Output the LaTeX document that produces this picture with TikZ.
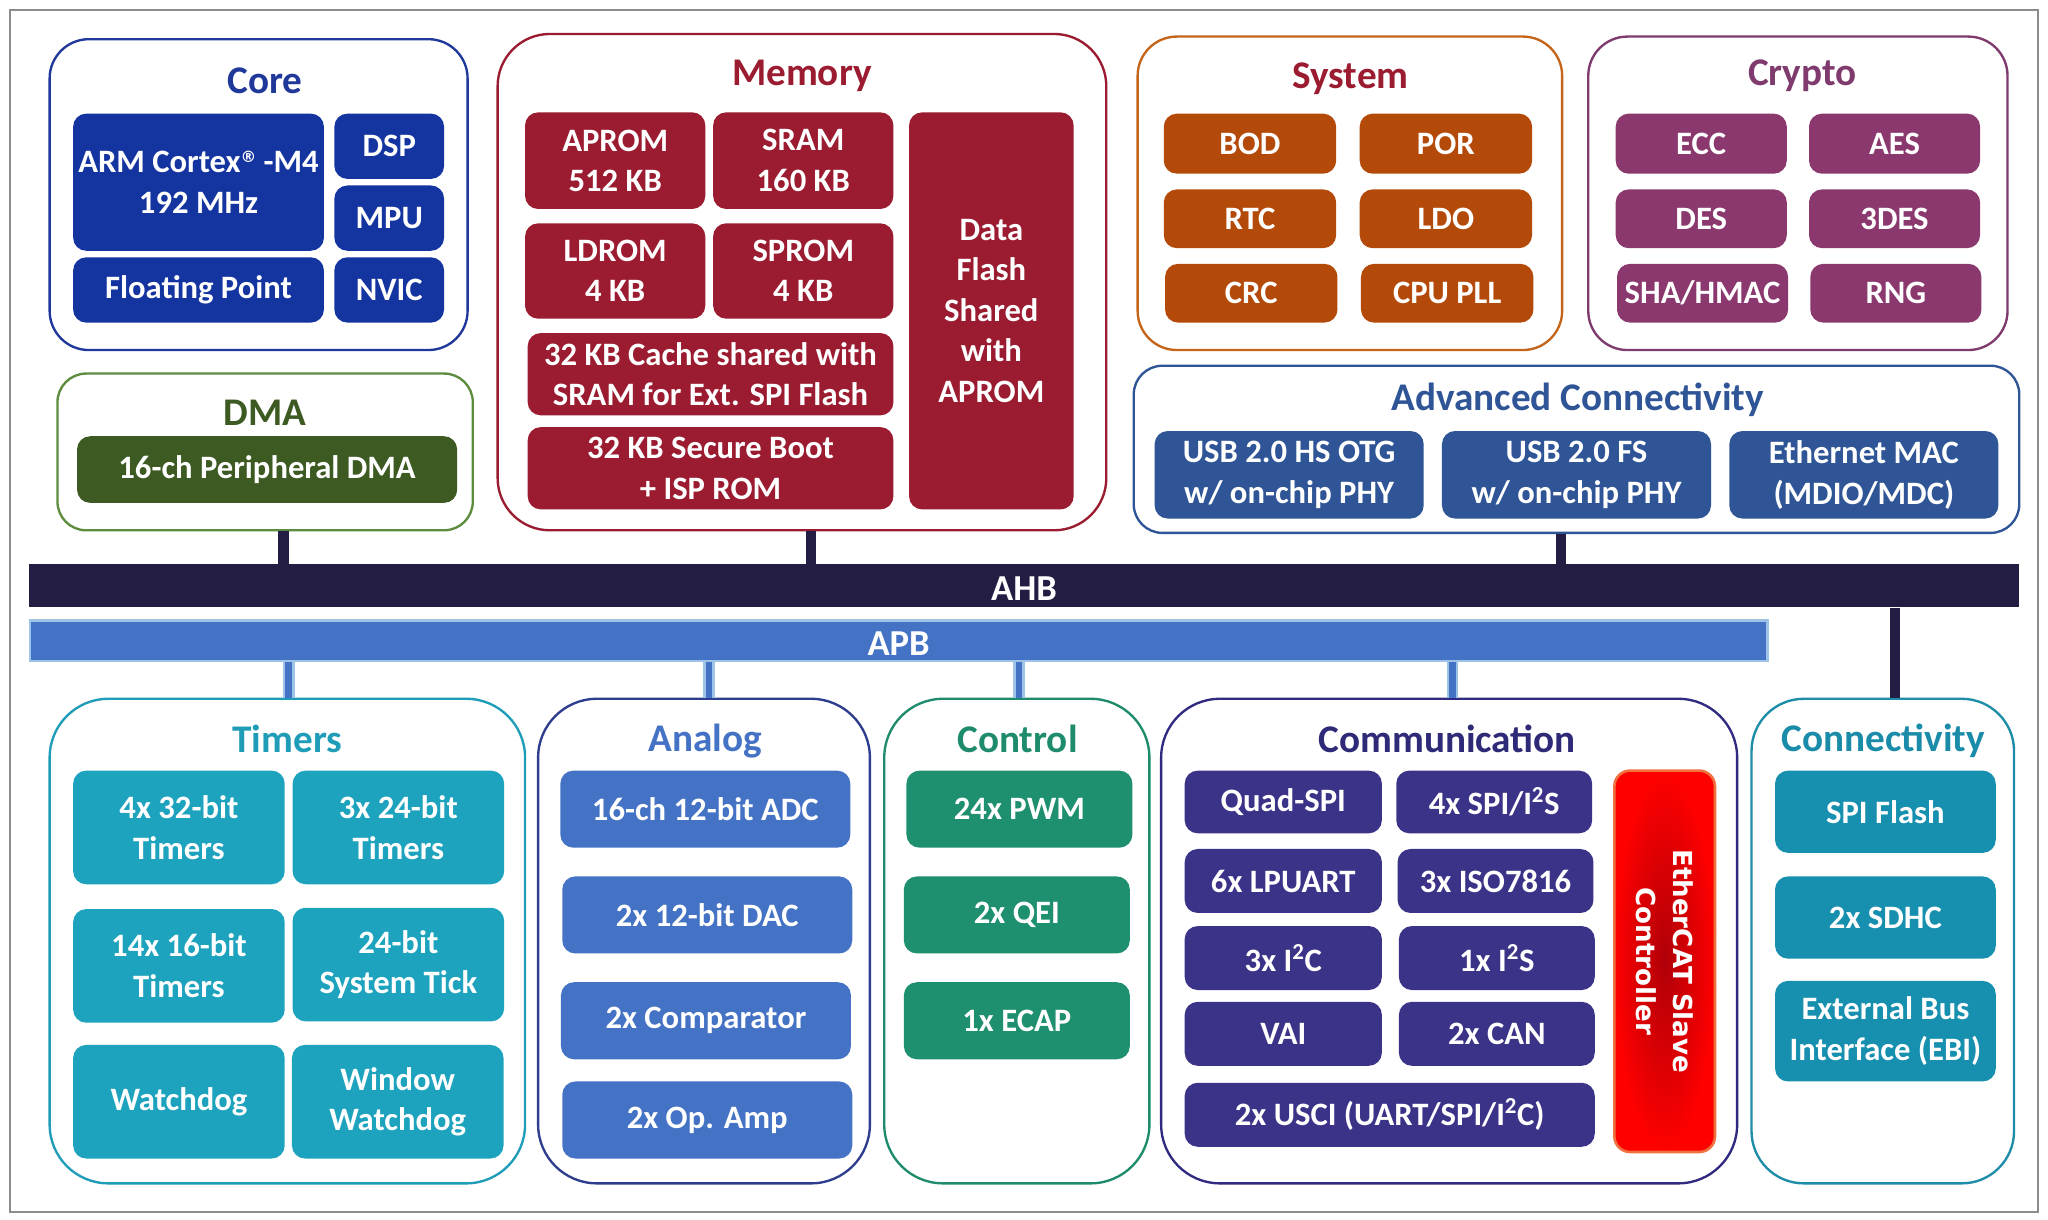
\documentclass[tikz,border=0pt]{standalone}
\usepackage{fontspec}
\setmainfont{Carlito}
\newfontfamily\ecatfont{DejaVu Sans}
\usetikzlibrary{fit}
\definecolor{frameC}{HTML}{8C8C8C}
\definecolor{coreC}{HTML}{1F3899}
\definecolor{coreF}{HTML}{1434A0}
\definecolor{dmaB}{HTML}{5E8C3E}
\definecolor{dmaF}{HTML}{3C5A22}
\definecolor{memC}{HTML}{9B1C30}
\definecolor{sysB}{HTML}{C5651A}
\definecolor{sysF}{HTML}{B44A0A}
\definecolor{cryC}{HTML}{7F3A6E}
\definecolor{cryF}{HTML}{8A386D}
\definecolor{advC}{HTML}{2F5597}
\definecolor{ahbC}{HTML}{231D44}
\definecolor{apbC}{HTML}{4472C4}
\definecolor{apbE}{HTML}{9DC3E6}
\definecolor{timB}{HTML}{1F9DB8}
\definecolor{timF}{HTML}{1DA3BD}
\definecolor{anaB}{HTML}{2E3E8E}
\definecolor{ctlC}{HTML}{1E8C6C}
\definecolor{ctlF}{HTML}{1E8F6F}
\definecolor{comB}{HTML}{302B80}
\definecolor{comT}{HTML}{2E2A78}
\definecolor{comF}{HTML}{3B3388}
\definecolor{ecatB}{HTML}{F07040}
\definecolor{ecatIn}{HTML}{B00008}
\definecolor{ecatOut}{HTML}{FF0000}
\definecolor{conB}{HTML}{1E8DA8}
\definecolor{conT}{HTML}{1A8BA8}
\definecolor{conF}{HTML}{178FAF}
\tikzset{
  grp/.style={draw=#1, line width=1.8pt, inner sep=0pt, fill=white},
  ttl/.style={text=#1, font=\fontsize{30}{36}\selectfont\bfseries, inner sep=0pt},
  blk/.style={fill=#1, rounded corners=10pt, inner sep=0pt, text=white, align=center,
    font=\fontsize{25}{31}\selectfont\bfseries},
  bar/.style={fill=#1, inner sep=0pt},
  bustxt/.style={text=white, font=\fontsize{28}{32}\selectfont\bfseries, inner sep=0pt},
  ahbstub/.style={draw=ahbC, line width=8pt},
  apbstub/.style={draw=apbE, line width=2pt, double=apbC, double distance=5pt},
}
\newcommand\pb[6]{\node[blk=#1, minimum width=#4pt, minimum height=#5pt] (#2) at (#3) {#6};}
\newcommand\regmark{{\ecatfont\fontsize{12}{12}\selectfont\raisebox{8pt}{®}}}
\begin{document}
\begin{tikzpicture}[x=1pt,y=-1pt]
\useasboundingbox (0,0) rectangle (1568,934);
\fill[white] (0,0) rectangle (1568,934);
\draw[frameC, line width=1.5pt] (8,8) rectangle (1560,928);

% x positions of the stubs
\coordinate (xdma) at (217,0);
\coordinate (xmem) at (621,0);
\coordinate (xadv) at (1195,0);
\coordinate (xcon) at (1451,0);
\coordinate (xtim) at (221,0);
\coordinate (xana) at (543,0);
\coordinate (xctl) at (780,0);
\coordinate (xcom) at (1112,0);

% buses
\node[bar=ahbC, fit={(22,432) (1546,465)}] (ahb) {};
\node[bustxt] (ahbT) at (784,451) {AHB};
\node[draw=apbE, line width=2pt, bar=apbC, fit={(23,475) (1353,506)}] (apb) {};
\node[bustxt] (apbT) at (688,493) {APB};

% ---------------- Core
\node[grp=coreC, rounded corners=30pt, fit={(38,30) (358,268)}] (core) {};
\node[ttl=coreC] (coreT) at (203,62) {Core};
\pb{coreF}{arm}{152,139.5}{192}{105}{ARM Cortex\regmark{} -M4\\192 MHz}
\pb{coreF}{dsp}{298,112}{84}{50}{DSP}
\pb{coreF}{mpu}{298,167}{84}{50}{MPU}
\pb{coreF}{fpu}{152,222}{192}{50}{Floating Point}
\pb{coreF}{nvic}{298,222}{84}{50}{NVIC}

% ---------------- DMA
\node[grp=dmaB, rounded corners=22pt, fit={(44,286) (362,406)}] (dma) {};
\node[ttl=dmaF] (dmaT) at (203,316) {DMA};
\pb{dmaF}{pdma}{204.5,359.5}{291}{51}{16-ch Peripheral DMA}

% ---------------- Memory
\node[grp=memC, rounded corners=40pt, fit={(381,26) (847,406)}] (mem) {};
\node[ttl=memC] (memT) at (614,58) {Memory};
\pb{memC}{aprom}{471,123}{138}{74}{APROM\\512 KB}
\pb{memC}{sram}{615,123}{138}{74}{SRAM\\160 KB}
\pb{memC}{ldrom}{471,207.5}{138}{73}{LDROM\\4 KB}
\pb{memC}{sprom}{615,207.5}{138}{73}{SPROM\\4 KB}
\pb{memC}{cache}{544,286.5}{280}{63}{32 KB Cache shared with\\SRAM for Ext. SPI Flash}
\pb{memC}{boot}{544,358.5}{280}{63}{32 KB Secure Boot\\+ ISP ROM}
\pb{memC}{dflash}{759,238}{126}{304}{Data\\Flash\\Shared\\with\\APROM}

% ---------------- System
\node[grp=sysB, rounded corners=30pt, fit={(871,28) (1196,268)}] (sys) {};
\node[ttl=memC] (sysT) at (1034,60) {System};
\pb{sysF}{bod}{957,110}{132}{46}{BOD}
\pb{sysF}{por}{1107,110}{132}{46}{POR}
\pb{sysF}{rtc}{957,167.5}{132}{45}{RTC}
\pb{sysF}{ldo}{1107,167.5}{132}{45}{LDO}
\pb{sysF}{crc}{958,224.5}{132}{45}{CRC}
\pb{sysF}{pll}{1108,224.5}{132}{45}{CPU PLL}

% ---------------- Crypto
\node[grp=cryC, rounded corners=30pt, fit={(1216,28) (1537,268)}] (cry) {};
\node[ttl=cryC] (cryT) at (1380,58) {Crypto};
\pb{cryF}{ecc}{1302.5,110}{131}{46}{ECC}
\pb{cryF}{aes}{1450.5,110}{131}{46}{AES}
\pb{cryF}{des}{1302.5,167.5}{131}{45}{DES}
\pb{cryF}{tdes}{1450.5,167.5}{131}{45}{3DES}
\pb{cryF}{sha}{1303.5,224.5}{131}{45}{SHA/HMAC}
\pb{cryF}{rng}{1451.5,224.5}{131}{45}{RNG}

% ---------------- Advanced Connectivity
\node[grp=advC, rounded corners=22pt, fit={(868,280) (1546,408)}] (adv) {};
\node[ttl=advC] (advT) at (1208,306) {Advanced Connectivity};
\pb{advC}{usbhs}{987,363.5}{206}{67}{USB 2.0 HS OTG\\w/ on-chip PHY}
\pb{advC}{usbfs}{1207,363.5}{206}{67}{USB 2.0 FS\\w/ on-chip PHY}
\pb{advC}{eth}{1427,363.5}{206}{67}{Ethernet MAC\\(MDIO/MDC)}

% ---------------- Timers
\node[grp=timB, rounded corners=45pt, fit={(38,535) (402,906)}] (tim) {};
\node[ttl=timB] (timT) at (220,566) {Timers};
\pb{timF}{t1}{137,633.5}{162}{87}{4x 32-bit\\Timers}
\pb{timF}{t2}{305,633.5}{162}{87}{3x 24-bit\\Timers}
\pb{timF}{t3}{137,739.5}{162}{87}{14x 16-bit\\Timers}
\pb{timF}{t4}{305,738.5}{162}{87}{24-bit\\System Tick}
\pb{timF}{t5}{137,843.5}{162}{87}{Watchdog}
\pb{timF}{t6}{304.5,843.5}{162}{87}{Window\\Watchdog}

% ---------------- Analog
\node[grp=anaB, rounded corners=45pt, fit={(412,535) (666,906)}] (ana) {};
\node[ttl=apbC] (anaT) at (540,567) {Analog};
\pb{apbC}{adc}{540,619.5}{222}{59}{16-ch 12-bit ADC}
\pb{apbC}{dac}{541.5,700.5}{222}{59}{2x 12-bit DAC}
\pb{apbC}{cmp}{540.5,781.5}{222}{59}{2x Comparator}
\pb{apbC}{opa}{541.5,857.5}{222}{59}{2x Op. Amp}

% ---------------- Control
\node[grp=ctlC, rounded corners=45pt, fit={(677,535) (880,906)}] (ctl) {};
\node[ttl=ctlC] (ctlT) at (779,566) {Control};
\pb{ctlF}{pwm}{780.5,619.5}{173}{59}{24x PWM}
\pb{ctlF}{qei}{778.5,700.5}{173}{59}{2x QEI}
\pb{ctlF}{ecap}{778.5,781.5}{173}{59}{1x ECAP}

% ---------------- Communication
\node[grp=comB, rounded corners=45pt, fit={(889,535) (1330,906)}] (com) {};
\node[ttl=comT] (comT) at (1108,566) {Communication};
\pb{comF}{qspi}{982.5,614}{151}{48}{Quad-SPI}
\pb{comF}{spi}{1144,614}{150}{48}{4x SPI/I\textsuperscript{2}S}
\pb{comF}{lpuart}{982.5,674.5}{151}{49}{6x LPUART}
\pb{comF}{iso}{1145,674.5}{150}{49}{3x ISO7816}
\pb{comF}{itc}{982.5,733.5}{151}{49}{3x I\textsuperscript{2}C}
\pb{comF}{its}{1146,733.5}{150}{49}{1x I\textsuperscript{2}S}
\pb{comF}{vai}{982.5,791.5}{151}{49}{VAI}
\pb{comF}{can}{1146,791.5}{150}{49}{2x CAN}
\pb{comF}{usci}{1064,853.5}{314}{49}{2x USCI (UART/SPI/I\textsuperscript{2}C)}
\node[draw=ecatB, line width=2pt, rounded corners=12pt, shading=radial, inner color=ecatIn,
  outer color=ecatOut, minimum width=77pt, minimum height=292pt, inner sep=0pt] (ecat) at (1274.5,736) {};
\node[rotate=-90, text=white, align=center, inner sep=0pt,
  font=\ecatfont\bfseries\fontsize{20}{28}\selectfont] (ecatT) at (ecat.center) {EtherCAT Slave\\Controller};

% ---------------- Connectivity
\node[grp=conB, rounded corners=40pt, fit={(1341,535) (1542,906)}] (con) {};
\node[ttl=conT] (conT) at (1442,567) {Connectivity};
\pb{conF}{spif}{1443.5,621.5}{169}{63}{SPI Flash}
\pb{conF}{sdhc}{1443.5,702.5}{169}{63}{2x SDHC}
\pb{conF}{ebi}{1443.5,789.5}{169}{77}{External Bus\\Interface (EBI)}

% ---------------- stubs
\draw[ahbstub] (dma.south -| xdma) -- (ahb.north -| xdma);
\draw[ahbstub] (mem.south -| xmem) -- (ahb.north -| xmem);
\draw[ahbstub] (adv.south -| xadv) -- (ahb.north -| xadv);
\draw[ahbstub] (ahb.south -| xcon) -- (con.north -| xcon);
\draw[apbstub] (apb.south -| xtim) -- (tim.north -| xtim);
\draw[apbstub] (apb.south -| xana) -- (ana.north -| xana);
\draw[apbstub] (apb.south -| xctl) -- (ctl.north -| xctl);
\draw[apbstub] (apb.south -| xcom) -- (com.north -| xcom);
\end{tikzpicture}
\end{document}
